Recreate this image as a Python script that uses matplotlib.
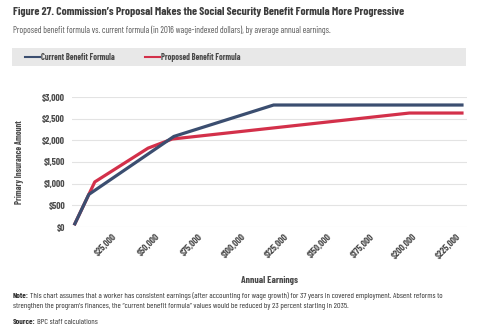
import matplotlib.pyplot as plt
from matplotlib.patches import Rectangle
from matplotlib.ticker import FuncFormatter

# --- datos ---
ingresos_actual = [3000, 11500, 61000, 119000, 229500]
pia_actual = [40, 750, 2090, 2815, 2815]

ingresos_propuesta = [3000, 15000, 46000, 60000, 198000, 229500]
pia_propuesta = [40, 1040, 1820, 2030, 2630, 2630]

ticks_x = [25000, 50000, 75000, 100000, 125000, 150000, 175000, 200000, 225000]
ticks_y = [0, 500, 1000, 1500, 2000, 2500, 3000]

azul = '#3b4e70'
rojo = '#d3304a'
gris_txt = '#4a4a4a'

plt.rcParams['font.family'] = ['Barlow Condensed', 'DejaVu Sans']

fig = plt.figure(figsize=(4.88, 3.34), dpi=100)


def px(x, y):
    # pixeles (desde arriba a la izquierda) -> fracción de figura
    return x / 488, 1 - y / 334


# --- textos de cabecera ---
fig.text(*px(13, 12), "Figure 27. Commission’s Proposal Makes the Social Security Benefit Formula More Progressive",
         fontsize=8.3, fontweight='bold', color='#3d3d3d', va='center', ha='left')
fig.text(*px(13, 30), "Proposed benefit formula vs. current formula (in 2016 wage-indexed dollars), by average annual earnings.",
         fontsize=6.4, color='#555555', va='center', ha='left')

# franja de leyenda
fig.patches.append(Rectangle(px(12, 66), 454 / 488, 18 / 334,
                             transform=fig.transFigure, facecolor='#e8e8e8', edgecolor='none'))
y_ley = px(0, 57)[1]
fig.lines.append(plt.Line2D([25 / 488, 40 / 488], [y_ley, y_ley], transform=fig.transFigure, color=azul, lw=1.5))
fig.text(41 / 488, y_ley, "Current Benefit Formula", fontsize=6.1, fontweight='bold', color=gris_txt, va='center')
fig.lines.append(plt.Line2D([145 / 488, 160 / 488], [y_ley, y_ley], transform=fig.transFigure, color=rojo, lw=1.5))
fig.text(161 / 488, y_ley, "Proposed Benefit Formula", fontsize=6.1, fontweight='bold', color=gris_txt, va='center')

# --- gráfico ---
ax = fig.add_axes([72 / 488, 1 - 227 / 334, 395 / 488, 130 / 334])
ax.plot(ingresos_actual, pia_actual, color=azul, lw=2.3, clip_on=False, zorder=3, solid_capstyle='butt')
ax.plot(ingresos_propuesta, pia_propuesta, color=rojo, lw=2.3, clip_on=False, zorder=2, solid_capstyle='butt')

ax.set_xlim(1750, 231500)
ax.set_ylim(0, 3000)
ax.set_yticks(ticks_y)
ax.set_xticks(ticks_x)
ax.yaxis.set_major_formatter(FuncFormatter(lambda v, p: f"${v:,.0f}"))
ax.xaxis.set_major_formatter(FuncFormatter(lambda v, p: f"${v:,.0f}"))
ax.grid(axis='y', color='#e3e3e3', lw=0.8)
ax.set_axisbelow(True)
for s in ax.spines.values():
    s.set_visible(False)
ax.tick_params(length=0, colors=gris_txt, labelsize=6.8)
ax.tick_params(axis='y', pad=5)
ax.tick_params(axis='x', pad=4)
for lab in ax.get_xticklabels():
    lab.set_rotation(45)
    lab.set_ha('right')
    lab.set_rotation_mode('anchor')
    lab.set_fontweight('bold')
for lab in ax.get_yticklabels():
    lab.set_fontweight('bold')

ax.set_ylabel("Primary Insurance Amount", fontsize=6.2, fontweight='bold', color=gris_txt, labelpad=13)
ax.set_xlabel("Annual Earnings", fontsize=7.0, fontweight='bold', color=gris_txt, labelpad=11)

# --- notas ---
tam_nota = 5.9
fig.text(*px(13, 296), "Note:", fontsize=tam_nota, fontweight='bold', color='#333333', va='center')
fig.text(*px(30, 296), "This chart assumes that a worker has consistent earnings (after accounting for wage growth) for 37 years in covered employment. Absent reforms to",
         fontsize=tam_nota, color='#333333', va='center')
fig.text(*px(13, 306), "strengthen the program’s finances, the “current benefit formula” values would be reduced by 23 percent starting in 2035.",
         fontsize=tam_nota, color='#333333', va='center')
fig.text(*px(13, 322), "Source:", fontsize=tam_nota, fontweight='bold', color='#333333', va='center')
fig.text(*px(37, 322), "BPC staff calculations", fontsize=tam_nota, color='#333333', va='center')

fig.savefig('out.png', dpi=100)
